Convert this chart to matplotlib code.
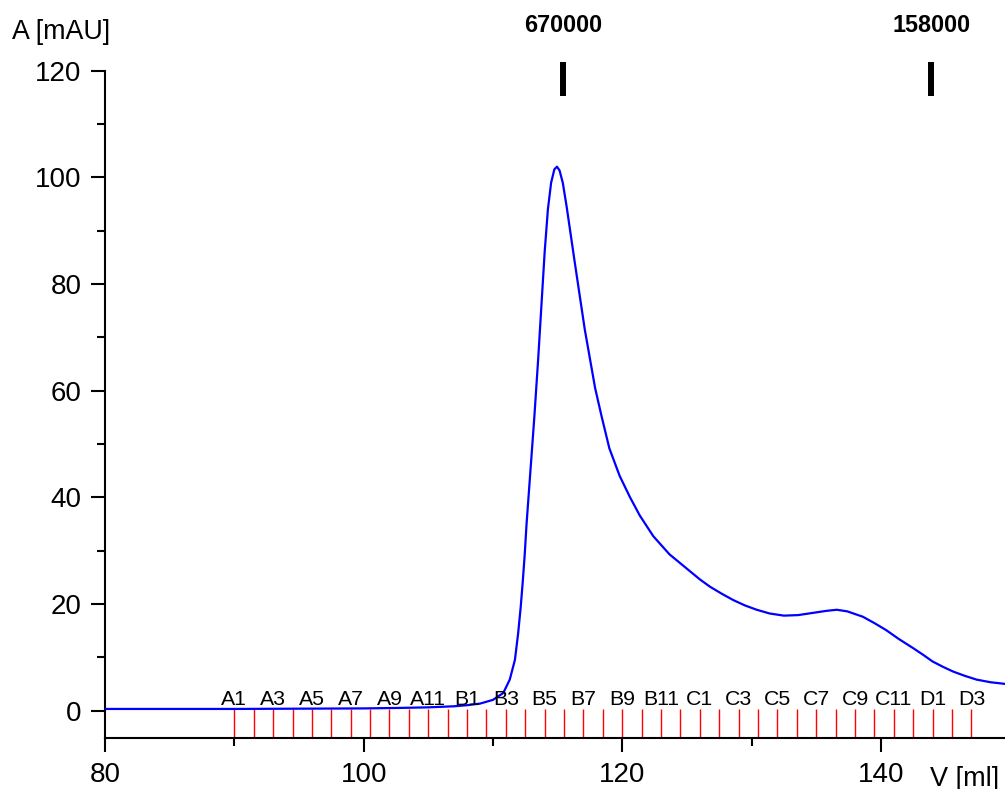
import matplotlib
matplotlib.use("Agg")
import matplotlib.pyplot as plt

plt.rcParams['font.family'] = ['Liberation Sans', 'DejaVu Sans']

# ===============================
# Chromatogram data
# ===============================
volume = [80, 85, 90, 95, 100, 103, 105, 107, 108, 109, 110, 110.8, 111.3,
          111.7, 111.95, 112.15, 112.3, 112.45, 112.6, 112.9, 113.2, 113.5,
          113.75, 114.0, 114.25, 114.5, 114.75, 114.95, 115.15, 115.4, 115.7,
          116.0, 116.3, 116.7, 117.1, 117.5, 117.9, 118.4, 119.0, 119.8,
          120.6, 121.35, 122.4, 123.65, 124.95, 126.0, 126.8,
          127.7, 128.6, 129.5, 130.4, 131.4, 132.5, 133.6, 134.7, 135.8,
          136.6, 137.4, 138.6, 139.5, 140.4, 141.4, 142.5, 143.3, 144.0,
          144.8, 145.6, 146.5, 147.4, 148.5, 149.6]
absorbance = [0.3, 0.3, 0.3, 0.35, 0.4, 0.5, 0.6, 0.8, 1.0, 1.3, 2.0, 3.3, 5.8,
              9.5, 14.5, 19.5, 24.0, 29.0, 35.0, 45.0, 55.0, 66.0,
              76.0, 86.0, 94.0, 99.0, 101.5, 102.0, 101.3, 99.0, 94.5,
              89.5, 84.5, 78.0, 71.5, 66.0, 60.5, 55.2, 49.2, 44.0,
              40.0, 36.6, 32.7, 29.3, 26.7, 24.6, 23.2,
              21.9, 20.7, 19.7, 18.9, 18.2, 17.8, 17.9, 18.3, 18.7,
              18.9, 18.6, 17.6, 16.4, 15.1, 13.4, 11.7, 10.4, 9.2,
              8.2, 7.3, 6.5, 5.8, 5.3, 5.0]

# fraction collector marks
frac_pos = [90.0, 91.5, 93.0, 94.5, 96.0, 97.5, 99.0, 100.5, 102.0, 103.5,
            105.0, 106.5, 108.0, 109.5, 111.0, 112.5, 114.0, 115.5, 117.0,
            118.5, 120.0, 121.5, 123.0, 124.5, 126.0, 127.5, 129.0, 130.5,
            132.0, 133.5, 135.0, 136.5, 138.0, 139.5, 141.0, 142.5, 144.0,
            145.5, 147.0]
frac_names = ['A1', 'A2', 'A3', 'A4', 'A5', 'A6', 'A7', 'A8', 'A9', 'A10',
              'A11', 'A12', 'B1', 'B2', 'B3', 'B4', 'B5', 'B6', 'B7', 'B8',
              'B9', 'B10', 'B11', 'B12', 'C1', 'C2', 'C3', 'C4', 'C5', 'C6',
              'C7', 'C8', 'C9', 'C10', 'C11', 'C12', 'D1', 'D2', 'D3']

# molecular weight standards
std_pos = [115.4, 143.9]
std_names = ['670000', '158000']

# ===============================
# Figure
# ===============================
fig = plt.figure(figsize=(10.05, 7.89), dpi=100)
ax = fig.add_axes([0.1045, 0.0643, 0.8955, 0.8461])

ax.plot(volume, absorbance, color='#0000ff', lw=1.6, zorder=3)

ax.vlines(frac_pos, -5.2, 0.2, color='red', lw=1, zorder=2)
for i, (p, n) in enumerate(zip(frac_pos, frac_names)):
    if i % 2 == 0:
        ax.text(p, 1.0, n, ha='center', va='baseline', fontsize=15.3)

for p, n in zip(std_pos, std_names):
    ax.vlines(p, 115.3, 121.7, color='black', lw=4.3, clip_on=False)
    ax.text(p, 128.4, n, ha='center', va='center', fontsize=16.8,
            fontweight='bold', clip_on=False)

ax.set_xlim(80, 149.6)
ax.set_ylim(-5.2, 120)
ax.set_xticks([80, 100, 120, 140])
ax.set_xticks([90, 110, 130], minor=True)
ax.set_yticks([0, 20, 40, 60, 80, 100, 120])
ax.set_yticks([10, 30, 50, 70, 90, 110], minor=True)

ax.spines['top'].set_visible(False)
ax.spines['right'].set_visible(False)
for s in ['left', 'bottom']:
    ax.spines[s].set_linewidth(1.5)
ax.tick_params(which='major', direction='out', length=10, width=1.5,
               labelsize=20, pad=7)
ax.tick_params(which='minor', direction='out', length=5.5, width=1.5)

fig.text(12 / 1005, 0.950, 'A [mAU]', fontsize=19.3, ha='left', va='baseline')
fig.text(930 / 1005, 0.004, 'V [ml]', fontsize=19.5, ha='left', va='baseline')

fig.savefig('out.png', dpi=100)
